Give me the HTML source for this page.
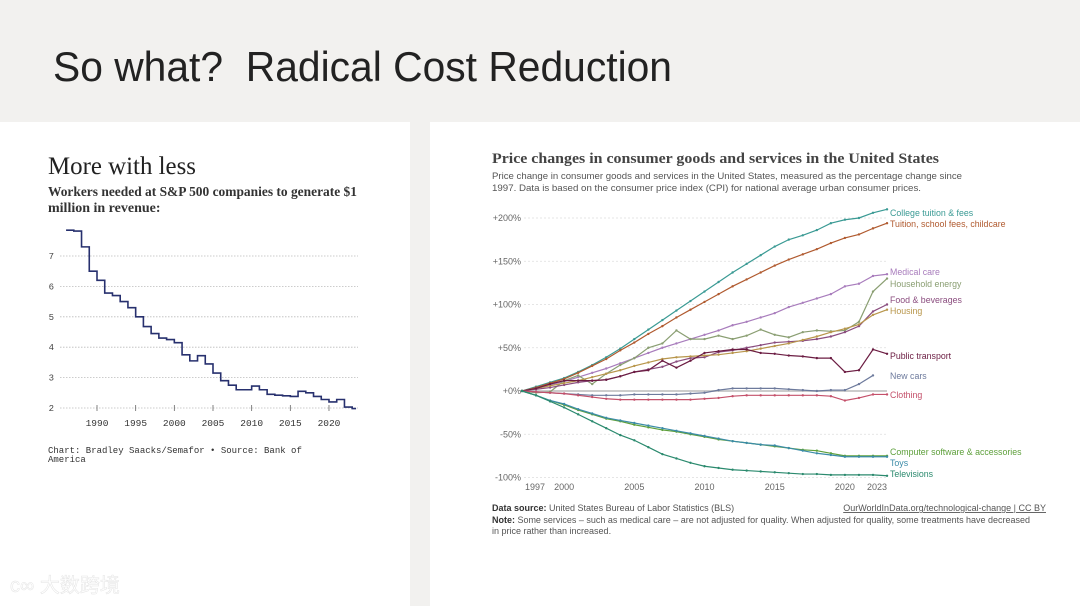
<!DOCTYPE html>
<html><head><meta charset="utf-8"><style>
html,body{margin:0;padding:0;background:#f2f1ef;}
svg{display:block;}
</style></head><body>
<svg width="1080" height="606" viewBox="0 0 1080 606" xmlns="http://www.w3.org/2000/svg">
<rect x="0" y="0" width="1080" height="606" fill="#f2f1ef"/>
<text x="53" y="81" font-family="Liberation Sans, sans-serif" font-size="42" fill="#222" textLength="619" lengthAdjust="spacingAndGlyphs">So what?&#160; Radical Cost Reduction</text>
<rect x="0" y="122" width="410" height="484" fill="#fff"/>
<rect x="430" y="122" width="650" height="484" fill="#fff"/>
<text x="48" y="174" font-family="Liberation Serif, serif" font-size="25" fill="#222" textLength="148" lengthAdjust="spacingAndGlyphs">More with less</text>
<text x="48" y="196" font-family="Liberation Serif, serif" font-size="14" font-weight="bold" fill="#333" textLength="309" lengthAdjust="spacingAndGlyphs">Workers needed at S&amp;P 500 companies to generate $1</text>
<text x="48" y="212" font-family="Liberation Serif, serif" font-size="14" font-weight="bold" fill="#333">million in revenue:</text>
<g id="left-chart"></g>
<text x="48" y="453" font-family="Liberation Mono, monospace" font-size="9" fill="#333">Chart: Bradley Saacks/Semafor • Source: Bank of</text>
<text x="48" y="462" font-family="Liberation Mono, monospace" font-size="9" fill="#333">America</text>

<text x="492" y="163" font-family="Liberation Serif, serif" font-size="15" font-weight="bold" fill="#444" textLength="447" lengthAdjust="spacingAndGlyphs">Price changes in consumer goods and services in the United States</text>
<text x="492" y="179" font-family="Liberation Sans, sans-serif" font-size="9.5" fill="#555" textLength="470" lengthAdjust="spacingAndGlyphs">Price change in consumer goods and services in the United States, measured as the percentage change since</text>
<text x="492" y="191" font-family="Liberation Sans, sans-serif" font-size="9.5" fill="#555" textLength="429" lengthAdjust="spacingAndGlyphs">1997. Data is based on the consumer price index (CPI) for national average urban consumer prices.</text>
<g id="right-chart"></g>
<text x="492" y="511" font-family="Liberation Sans, sans-serif" font-size="9" fill="#555"><tspan font-weight="bold" fill="#333">Data source:</tspan> United States Bureau of Labor Statistics (BLS)</text>
<text x="1046" y="511" text-anchor="end" font-family="Liberation Sans, sans-serif" font-size="9" fill="#555" text-decoration="underline">OurWorldInData.org/technological-change | CC BY</text>
<text x="492" y="523" font-family="Liberation Sans, sans-serif" font-size="9" fill="#555" textLength="538" lengthAdjust="spacingAndGlyphs"><tspan font-weight="bold" fill="#333">Note:</tspan> Some services – such as medical care – are not adjusted for quality. When adjusted for quality, some treatments have decreased</text>
<text x="492" y="534" font-family="Liberation Sans, sans-serif" font-size="9" fill="#555">in price rather than increased.</text>
<text x="10" y="592" font-family="Liberation Sans, Noto Sans CJK SC, sans-serif" font-size="20" fill="#fff" stroke="#e4e4e4" stroke-width="0.5">ᴄ∞ 大数跨境</text>
</svg>
<script>
// ---- Left chart data ----
const leftYears=[1986,1987,1988,1989,1990,1991,1992,1993,1994,1995,1996,1997,1998,1999,2000,2001,2002,2003,2004,2005,2006,2007,2008,2009,2010,2011,2012,2013,2014,2015,2016,2017,2018,2019,2020,2021,2022,2023];
const leftValues=[7.85,7.82,7.3,6.5,6.2,5.78,5.7,5.5,5.3,5.0,4.68,4.45,4.3,4.25,4.15,3.75,3.55,3.72,3.45,3.15,2.9,2.75,2.6,2.6,2.72,2.6,2.45,2.42,2.4,2.38,2.55,2.5,2.38,2.28,2.2,2.28,2.03,1.98];
const leftYTicks=[2,3,4,5,6,7];
const leftXTicks=[1990,1995,2000,2005,2010,2015,2020];

// ---- Right chart data ----
const rightYears=[1997,1998,1999,2000,2001,2002,2003,2004,2005,2006,2007,2008,2009,2010,2011,2012,2013,2014,2015,2016,2017,2018,2019,2020,2021,2022,2023];
const collegeTuition=[0,5,10,15,22,30,39,49,60,71,82,93,104,115,126,137,147,157,167,175,180,186,194,198,200,206,210];
const tuitionChildcare=[0,4,9,14,21,29,37,47,56,66,75,85,94,103,112,121,129,137,145,152,158,164,171,177,181,188,194];
const medicalCare=[0,3,7,11,16,21,26,32,38,44,50,55,60,65,70,76,80,85,90,97,102,107,112,121,124,133,135];
const householdEnergy=[0,-2,-1,12,18,8,20,30,38,50,55,70,60,60,64,60,64,71,65,62,68,70,69,70,80,115,130];
const foodBeverages=[0,2,4,7,10,12,13,17,22,25,28,34,38,39,45,47,50,53,56,57,58,60,63,68,75,92,100];
const housing=[0,3,6,9,12,16,20,24,29,33,37,39,40,41,42,44,46,49,52,55,59,63,68,72,77,88,94];
const publicTransport=[0,3,8,12,12,12,13,17,22,24,35,27,35,44,46,48,48,44,43,41,40,38,38,22,24,48,43];
const newCars=[0,-1,-2,-3,-4,-5,-5,-5,-4,-4,-4,-4,-3,-2,1,3,3,3,3,2,1,0,1,1,8,18,null];
const clothing=[0,-1,-2,-3,-5,-7,-9,-10,-10,-10,-10,-10,-10,-9,-8,-6,-5,-5,-5,-5,-5,-5,-6,-11,-8,-4,-4];
const computerSoftware=[0,-5,-11,-16,-22,-27,-32,-35,-39,-42,-45,-47,-50,-53,-56,-58,-60,-62,-64,-66,-68,-69,-72,-75,-75,-75,-75];
const toys=[0,-5,-11,-15,-21,-26,-31,-34,-37,-40,-43,-46,-49,-52,-55,-58,-60,-62,-63,-66,-69,-72,-74,-76,-76,-76,-76];
const televisions=[0,-5,-12,-19,-27,-35,-43,-51,-57,-65,-73,-78,-83,-87,-89,-91,-92,-93,-94,-95,-96,-96,-97,-97,-97,-97,-98];
const seriesNames=["College tuition & fees","Tuition, school fees, childcare","Medical care","Household energy","Food & beverages","Housing","Public transport","New cars","Clothing","Computer software & accessories","Toys","Televisions"];
const rightYTicks=[-100,-50,0,50,100,150,200];
const rightXTicks=[1997,2000,2005,2010,2015,2020,2023];

const NS="http://www.w3.org/2000/svg";
function mk(tag,attrs,parent){const e=document.createElementNS(NS,tag);for(const k in attrs)e.setAttribute(k,attrs[k]);parent.appendChild(e);return e;}

// Left chart
(function(){
  const g=document.getElementById('left-chart');
  const lx=y=>97+(y-1990)*7.733, ly=v=>408-(v-2)*30.4;
  leftYTicks.forEach(t=>{
    const l=mk('line',{x1:60,x2:358,y1:ly(t),y2:ly(t),stroke:'#bbb','stroke-width':0.8,'stroke-dasharray':'1.5,1.5'},g);
    
    
    const tx=mk('text',{x:54,y:ly(t)+3,'text-anchor':'end','font-family':'Liberation Mono, monospace','font-size':9,fill:'#444'},g);
    tx.textContent=t;
    
    
  });
  leftXTicks.forEach(t=>{
    const l=mk('line',{x1:lx(t),x2:lx(t),y1:ly(2)-3,y2:ly(2)+3,stroke:'#666','stroke-width':0.8},g);
    
    
    const tx=mk('text',{x:lx(t),y:426,'text-anchor':'middle','font-family':'Liberation Mono, monospace','font-size':9.5,fill:'#333'},g);
    tx.textContent=t;
    
    
  });
  let d='';
  leftYears.forEach((y,i)=>{
    const x=lx(y),v=ly(leftValues[i]);
    if(i===0)d+='M'+x+','+v;else d+='H'+x+'V'+v;
  });
  d+='H'+lx(2023.5);
  const p=mk('path',{d:d,fill:'none',stroke:'#27306e','stroke-width':1.6},g);
  
  
})();

// Right chart
(function(){
  const g=document.getElementById('right-chart');
  const rx=y=>522+(y-1997)*14.04, ry=v=>391-v*0.865;
  rightYTicks.forEach(t=>{
    const l=mk('line',{x1:524,x2:887,y1:ry(t),y2:ry(t),stroke:t===0?'#ccc':'#ddd','stroke-width':t===0?2:0.7,'stroke-dasharray':t===0?'':'2,2'},g);
    
    
    const tx=mk('text',{x:521,y:ry(t)+3,'text-anchor':'end','font-family':'Liberation Sans, sans-serif','font-size':9,fill:'#666'},g);
    tx.textContent=(t>=0?'+':'')+t+'%';
    
    
  });
  rightXTicks.forEach(t=>{
    const tx=mk('text',{x:rx(t)+(t===1997?13:(t===2023?-10:0)),y:490,'text-anchor':'middle','font-family':'Liberation Sans, sans-serif','font-size':9,fill:'#666'},g);
    tx.textContent=t;
    
    
  });
  const all=[collegeTuition,tuitionChildcare,medicalCare,householdEnergy,foodBeverages,housing,publicTransport,newCars,clothing,computerSoftware,toys,televisions];
  const colors=['#3a9a94','#b05a2f','#a87cbc','#8a9e72','#8a4c7e','#b8964b','#6b1c42','#6d7a9c','#c4506a','#5d9f3a','#3c8ca8','#2b8a6e'];
  const labelY=[213,224,272,284,300,311,356,376,395,452,463,474];
  all.forEach((s,k)=>{
    let d='';
    s.forEach((v,i)=>{ if(v===null)return; d+=(d?'L':'M')+rx(rightYears[i])+','+ry(v);});
    const p=mk('path',{d:d,fill:'none',stroke:colors[k],'stroke-width':1.2},g);
    
    
    s.forEach((v,i)=>{ if(v===null)return;
      const c=mk('circle',{cx:rx(rightYears[i]),cy:ry(v),r:1.2,fill:colors[k]},g);
      
      
    });
    const tx=mk('text',{x:890,y:labelY[k]+3,'font-family':'Liberation Sans, sans-serif','font-size':8.8,fill:colors[k]},g);
    tx.textContent=seriesNames[k];
    
    
  });
})();
</script>
</body></html>
